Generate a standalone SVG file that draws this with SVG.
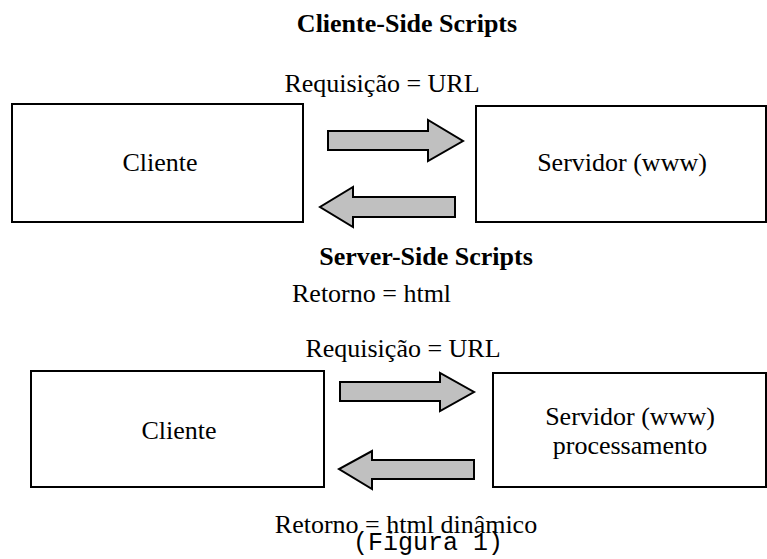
<svg xmlns="http://www.w3.org/2000/svg" width="767" height="559" viewBox="0 0 767 559">
<style>
.t{font-family:"Liberation Serif","Times New Roman",serif;font-size:26px;fill:#000}
.b{font-weight:bold}
.m{font-family:"Liberation Mono","Courier New",monospace;font-size:25px;fill:#000}
.box{fill:#fff;stroke:#000;stroke-width:2}
.arr{fill:#c0c0c0;stroke:#000;stroke-width:2;stroke-linejoin:miter}
</style>
<rect width="767" height="559" fill="#fff"/>
<text class="t b" x="407" y="32" text-anchor="middle">Cliente-Side Scripts</text>
<text class="t" x="382" y="92" text-anchor="middle">Requisição = URL</text>
<g id="cliente1"><rect class="box" x="12" y="104" width="291" height="118"/><text class="t" x="160" y="171" text-anchor="middle">Cliente</text></g>
<g id="servidor1"><rect class="box" x="476" y="106" width="290" height="116"/><text class="t" x="622" y="171" text-anchor="middle">Servidor (www)</text></g>
<text class="t b" x="426" y="265" text-anchor="middle">Server-Side Scripts</text>
<text class="t" x="292" y="302">Retorno = html</text>
<text class="t" x="403" y="357" text-anchor="middle">Requisição = URL</text>
<g id="cliente2"><rect class="box" x="31" y="371" width="293" height="116"/><text class="t" x="179" y="439" text-anchor="middle">Cliente</text></g>
<g id="servidor2"><rect class="box" x="493" y="373" width="273" height="114"/><text class="t" x="630" y="425" text-anchor="middle">Servidor (www)</text><text class="t" x="630" y="454" text-anchor="middle">processamento</text></g>
<text class="t" x="406" y="533" text-anchor="middle">Retorno = html dinâmico</text>
<text class="m" x="428" y="550" text-anchor="middle">(Figura 1)</text>
<g id="connectors">
<polygon class="arr" points="328,131 428,131 428,120 463,141 428,161 428,150 328,150"/>
<polygon class="arr" points="455,197 353,197 353,187 320,207 353,227 353,217 455,217"/>
<polygon class="arr" points="340,382 440,382 440,373 474,392 440,411 440,401 340,401"/>
<polygon class="arr" points="474,460 372,460 372,451 339,469 372,489 372,479 474,479"/>
</g>
</svg>
